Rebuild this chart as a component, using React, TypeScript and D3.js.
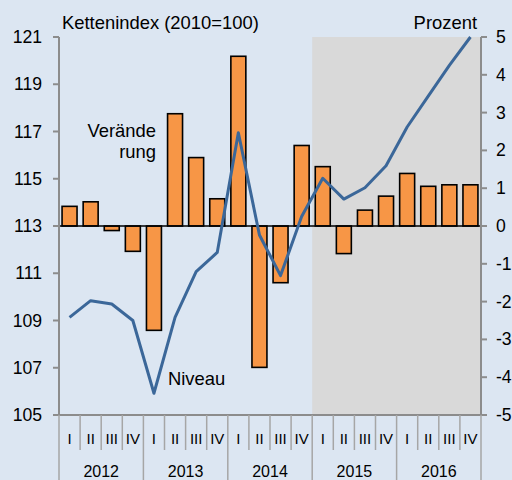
import { useEffect, useRef } from "react"
import * as d3 from "d3"

// quarters 2012 I .. 2016 IV
const years = ["2012", "2013", "2014", "2015", "2016"]
const quarters = ["I", "II", "III", "IV"]
// Veränderung (Prozent, right axis)
const change = [
    0.52, 0.64, -0.12, -0.67,
    -2.76, 2.97, 1.81, 0.72,
    4.49, -3.74, -1.5, 2.13,
    1.57, -0.73, 0.42, 0.79,
    1.39, 1.05, 1.09, 1.09,
]
// Niveau (Kettenindex, left axis)
const level = [
    109.13, 109.84, 109.7, 109.0,
    105.92, 109.13, 111.07, 111.88,
    116.95, 112.62, 110.9, 113.4,
    115.02, 114.14, 114.62, 115.55,
    117.19, 118.5, 119.8, 121.0,
]
const leftTicks = [105, 107, 109, 111, 113, 115, 117, 119, 121]
const rightTicks = [-5, -4, -3, -2, -1, 0, 1, 2, 3, 4, 5]
const forecastFrom = 12

export default function App() {
    const ref = useRef<SVGSVGElement>(null)

    useEffect(() => {
        const svg = d3.select(ref.current)
        svg.selectAll("*").remove()

        const width = 512
        const height = 480
        const left = 59, right = 481, top = 37, bottom = 415
        const font = "'Liberation Sans', Arial, sans-serif"
        const gray = "#8c8c8c"

        const keys = d3.range(change.length)
        const x = d3.scaleBand<number>().domain(keys).range([left, right]).paddingInner(0.29).paddingOuter(0.145)
        const xb = d3.scaleBand<number>().domain(keys).range([left, right])
        const yL = d3.scaleLinear().domain([105, 121]).range([bottom, top])
        const yR = d3.scaleLinear().domain([-5, 5]).range([bottom, top])

        svg.append("rect").attr("width", width).attr("height", height).attr("fill", "#dce6f2")

        svg.append("rect")
            .attr("x", xb(forecastFrom)!)
            .attr("y", top)
            .attr("width", right - xb(forecastFrom)!)
            .attr("height", bottom - top)
            .attr("fill", "#d9d9d9")

        // bars
        svg.append("g")
            .selectAll("rect")
            .data(change)
            .join("rect")
            .attr("x", (d, i) => x(i)!)
            .attr("width", x.bandwidth())
            .attr("y", d => yR(Math.max(0, d)))
            .attr("height", d => Math.abs(yR(d) - yR(0)))
            .attr("fill", "#f79646")
            .attr("stroke", "#000")
            .attr("stroke-width", 1.6)

        // zero line
        svg.append("line")
            .attr("x1", left).attr("x2", right)
            .attr("y1", yR(0)).attr("y2", yR(0))
            .attr("stroke", "#000").attr("stroke-width", 1.6)

        // Niveau line
        const line = d3.line<number>()
            .x((d, i) => xb(i)! + xb.bandwidth() / 2)
            .y(d => yL(d))
        svg.append("path")
            .datum(level)
            .attr("d", line)
            .attr("fill", "none")
            .attr("stroke", "#3b6799")
            .attr("stroke-width", 3)
            .attr("stroke-linejoin", "round")

        // axes
        const axes = svg.append("g").attr("stroke", gray).attr("stroke-width", 2)
        axes.append("line").attr("x1", left).attr("x2", left).attr("y1", top).attr("y2", bottom)
        axes.append("line").attr("x1", right).attr("x2", right).attr("y1", top).attr("y2", bottom)
        axes.append("line").attr("x1", left).attr("x2", right).attr("y1", bottom).attr("y2", bottom)
        axes.selectAll(".tl").data(leftTicks).join("line")
            .attr("x1", left - 6).attr("x2", left).attr("y1", d => yL(d)).attr("y2", d => yL(d))
        axes.selectAll(".tr").data(rightTicks).join("line")
            .attr("x1", right).attr("x2", right + 6).attr("y1", d => yR(d)).attr("y2", d => yR(d))

        // quarter separators
        const seps = d3.range(change.length + 1)
        axes.selectAll(".sep").data(seps).join("line")
            .attr("x1", i => left + i * xb.step())
            .attr("x2", i => left + i * xb.step())
            .attr("y1", bottom)
            .attr("y2", i => (i % 4 === 0 ? height : 450))
            .attr("stroke-width", 1.5)
            .attr("stroke", "#a6a6a6")

        const text = svg.append("g").attr("font-family", font).attr("fill", "#000")

        text.selectAll(".ll").data(leftTicks).join("text")
            .attr("x", 42).attr("y", d => yL(d) + 6)
            .attr("text-anchor", "end").attr("font-size", 17.6)
            .text(d => d)
        text.selectAll(".rl").data(rightTicks).join("text")
            .attr("x", 496).attr("y", d => yR(d) + 6)
            .attr("font-size", 17.6)
            .text(d => d)

        text.selectAll(".q").data(keys).join("text")
            .attr("x", i => xb(i)! + xb.bandwidth() / 2)
            .attr("y", 444)
            .attr("text-anchor", "middle").attr("font-size", 15)
            .text(i => quarters[i % 4])
        text.selectAll(".yr").data(years).join("text")
            .attr("x", (d, j) => left + (j * 4 + 2) * xb.step())
            .attr("y", 477)
            .attr("text-anchor", "middle").attr("font-size", 16)
            .text(d => d)

        text.append("text").attr("x", 62).attr("y", 29).attr("font-size", 18.4).text("Kettenindex (2010=100)")
        text.append("text").attr("x", 477).attr("y", 29).attr("text-anchor", "end").attr("font-size", 18.4).text("Prozent")
        text.append("text").attr("x", 156).attr("y", 137).attr("text-anchor", "end").attr("font-size", 18.4).text("Verände")
        text.append("text").attr("x", 156).attr("y", 158).attr("text-anchor", "end").attr("font-size", 18.4).text("rung")
        text.append("text").attr("x", 168).attr("y", 385).attr("font-size", 18.4).text("Niveau")
    }, [])

    return (
        <div style={{ position: "absolute", left: 0, top: 0 }}>
            <svg ref={ref} width={512} height={480} style={{ display: "block" }} />
        </div>
    )
}
